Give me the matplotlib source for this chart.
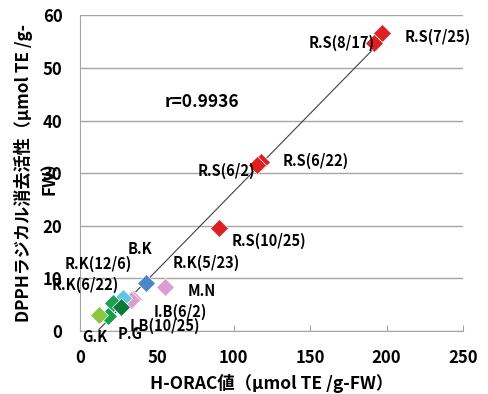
import numpy as np
import matplotlib
matplotlib.use("Agg")
import matplotlib.pyplot as plt

plt.rcParams['font.family'] = ['Noto Sans CJK JP', 'DejaVu Sans']

# samples: H-ORAC (x) vs DPPH (y)
names = ['R.S(7/25)', 'R.S(8/17)', 'R.S(6/22)', 'R.S(6/2)', 'R.S(10/25)',
         'B.K', 'M.N', 'I.B(6/2)', 'I.B(10/25)', 'P.G',
         'R.K(12/6)', 'R.K(6/22)', 'R.K(5/23)', 'G.K']
horac = [197.0, 192.0, 118.0, 115.0, 90.6,
         42.5, 55.0, 34.1, 33.0, 27.6,
         21.1, 26.5, 17.9, 12.0]
dpph = [56.6, 54.8, 32.1, 31.6, 19.6,
        9.1, 8.4, 6.1, 5.8, 6.2,
        5.3, 4.6, 2.9, 3.0]
colors = ['#e02020', '#e02020', '#e02020', '#e02020', '#e02020',
          '#4a86c8', '#dc9ed0', '#dc9ed0', '#dc9ed0', '#5cc8e0',
          '#1aa050', '#0a7a3a', '#12a048', '#8cc63f']

# label placement (data coords, alignment)
label_pos = [(211.8, 55.9, 'left'), (192.2, 54.8, 'right'), (132.2, 32.3, 'left'),
             (113.9, 30.4, 'right'), (98.9, 17.1, 'left'), (38.8, 15.6, 'center'),
             (70.2, 7.6, 'left'), (48.0, 3.6, 'left'), (32.3, 0.95, 'left'),
             (24.5, -0.6, 'left'), (-10.1, 12.7, 'left'), (-18.6, 8.7, 'left'),
             (60.4, 12.9, 'left'), (1.0, -1.1, 'left')]

fig = plt.figure(figsize=(4.89, 3.94), dpi=100)
ax = fig.add_axes([0.1646, 0.16, 0.7826, 0.8007])

ax.set_xlim(0, 250)
ax.set_ylim(0, 60)
ax.set_yticks(range(0, 61, 10))
ax.set_xticks(range(0, 251, 50))
ax.grid(axis='y', color='#a6a6a6', lw=1)
ax.set_axisbelow(True)
for s in ['top', 'right']:
    ax.spines[s].set_visible(False)
for s in ['left', 'bottom']:
    ax.spines[s].set_color('#a6a6a6')
ax.tick_params(axis='y', length=0, pad=13, labelsize=12)
ax.tick_params(axis='x', direction='in', length=4, color='#a6a6a6', pad=13, labelsize=12)
for t in ax.get_xticklabels() + ax.get_yticklabels():
    t.set_fontweight('bold')

# regression line
k, b = np.polyfit(horac, dpph, 1)
xs = np.array([min(horac), max(horac)])
ax.plot(xs, k * xs + b, color='#404040', lw=0.8, zorder=2)

for xv, yv, c in zip(horac, dpph, colors):
    ax.plot(xv, yv, marker='D', ms=9.5, color=c, mec='white', mew=0.5, ls='none', zorder=3)

for n, (lx, ly, ha) in zip(names, label_pos):
    ax.text(lx, ly, n, ha=ha, va='center', fontsize=10.5, fontweight='bold', zorder=4)

ax.text(55.2, 43.5, 'r=0.9936', ha='left', va='center', fontsize=12.5, fontweight='bold')

ax.set_xlabel('H-ORAC値（μmol TE /g-FW）', fontsize=12.5, fontweight='bold', labelpad=5)
fig.text(0.074, 0.56, 'DPPHラジカル消去活性（μmol TE /g-\nFW）', rotation=90,
         ha='center', va='center', multialignment='center',
         fontsize=12.3, fontweight='bold', linespacing=1.6)

fig.savefig('out.png', dpi=100)
